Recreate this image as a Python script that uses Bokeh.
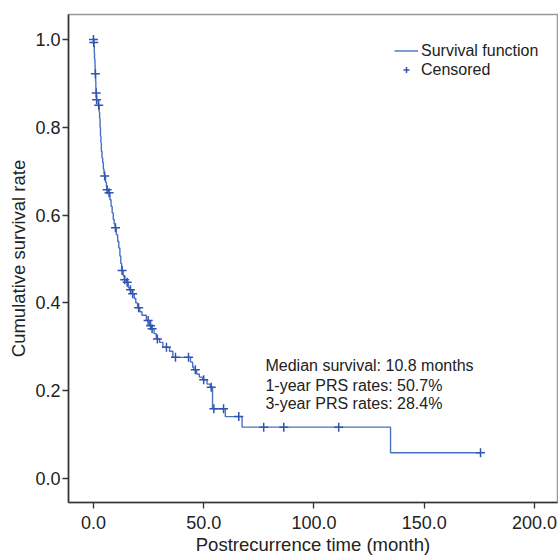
from bokeh.plotting import figure
from bokeh.models import (Range1d, FixedTicker, NumeralTickFormatter, Legend,
                          LegendItem, Label)
from bokeh.embed import file_html
from bokeh.resources import INLINE

# ---- data ----
event_times = [0, 0.1, 0.2, 0.4, 0.5, 0.7, 0.8, 1.0, 1.1, 1.2, 1.4, 2.2, 2.6, 2.8,
               3.0, 3.2, 3.4, 3.6, 3.9, 4.2, 4.5, 4.8, 5.0, 5.5, 5.9, 6.1, 6.8,
               7.5, 8.0, 8.5, 9.0, 9.4, 9.8, 10.4, 11.0, 11.5, 12.0, 12.4, 12.8,
               13.5, 14.0, 15.0, 15.8, 16.3, 17.5, 18.5, 19.2, 20.0, 21.0, 22.0,
               24.0, 25.5, 26.3, 27.5, 28.5, 30.0, 31.5, 34.5, 36.0, 44.0, 45.0,
               45.5, 46.8, 48.0, 49.5, 51.5, 53.0, 54.0, 59.8, 67.4, 134.7, 175.5]
survival = [1.0, 0.993, 0.985, 0.97, 0.955, 0.94, 0.922, 0.905, 0.89, 0.878, 0.863,
            0.85, 0.835, 0.82, 0.80, 0.78, 0.765, 0.745, 0.73, 0.72, 0.705, 0.695,
            0.689, 0.675, 0.665, 0.658, 0.651, 0.635, 0.62, 0.605, 0.59, 0.58,
            0.571, 0.555, 0.54, 0.525, 0.507, 0.49, 0.474, 0.462, 0.453, 0.447,
            0.435, 0.43, 0.421, 0.41, 0.40, 0.389, 0.38, 0.372, 0.36, 0.348, 0.341,
            0.33, 0.318, 0.31, 0.299, 0.29, 0.276, 0.265, 0.2535, 0.2475, 0.238,
            0.231, 0.2248, 0.215, 0.208, 0.159, 0.141, 0.117, 0.0585, 0.0585]

censored_times = [0.0, 0.15, 0.9, 1.25, 1.45, 2.4, 5.1, 6.2, 7.1, 10.0, 13.0, 14.2,
                  15.3, 16.8, 17.8, 20.5, 24.8, 25.9, 26.6, 29.0, 33.1, 37.2, 43.1,
                  46.2, 50.0, 53.4, 54.6, 59.0, 65.9, 77.2, 86.3, 111.2, 175.5]
censored_surv = [1.0, 0.993, 0.922, 0.878, 0.863, 0.85, 0.689, 0.658, 0.651, 0.571,
                 0.474, 0.453, 0.447, 0.43, 0.421, 0.389, 0.36, 0.348, 0.341, 0.318,
                 0.299, 0.276, 0.276, 0.2475, 0.2248, 0.208, 0.159, 0.159, 0.141,
                 0.117, 0.117, 0.117, 0.0585]

x_ticks = [0, 50, 100, 150, 200]
y_ticks = [0.0, 0.2, 0.4, 0.6, 0.8, 1.0]

stats_lines = ["Median survival: 10.8 months",
               "1-year PRS rates: 50.7%",
               "3-year PRS rates: 28.4%"]
stats_x = 78
stats_y = [0.2574, 0.2118, 0.1702]

FONT = "Liberation Sans"
TXT = "#222222"
LINE = "#4a70c4"
MARK = "#2f55b0"

p = figure(width=558, height=558, output_backend="svg", toolbar_location=None,
           x_range=Range1d(-11.3, 210.4), y_range=Range1d(-0.0547, 1.057),
           min_border_left=68, min_border_right=1, min_border_top=14,
           min_border_bottom=56)

step_r = p.step(event_times, survival, mode="after", line_color=LINE, line_width=1.4)
cens_r = p.scatter(censored_times, censored_surv, marker="cross", size=9,
                   line_color=MARK, line_width=1.5)

p.grid.visible = False
p.outline_line_color = "#999999"
p.outline_line_width = 1.5
p.background_fill_color = "white"
p.border_fill_color = "white"

for ax in (p.xaxis[0], p.yaxis[0]):
    ax.axis_line_color = "#333333"
    ax.axis_line_width = 1.6
    ax.major_tick_line_color = "#333333"
    ax.major_tick_line_width = 1.3
    ax.major_tick_in = 0
    ax.major_tick_out = 6
    ax.minor_tick_line_color = None
    ax.major_label_text_font = FONT
    ax.major_label_text_font_size = "18px"
    ax.major_label_text_color = TXT
    ax.axis_label_text_font = FONT
    ax.axis_label_text_font_size = "18.5px"
    ax.axis_label_text_font_style = "normal"
    ax.axis_label_text_color = TXT
    ax.formatter = NumeralTickFormatter(format="0.0")

p.xaxis.ticker = FixedTicker(ticks=x_ticks)
p.yaxis.ticker = FixedTicker(ticks=y_ticks)
p.xaxis.axis_label = "Postrecurrence time (month)"
p.yaxis.axis_label = "Cumulative survival rate"
p.xaxis.major_label_standoff = 7
p.xaxis.axis_label_standoff = 2
p.yaxis.major_label_standoff = 2
p.yaxis.axis_label_standoff = 3

legend = Legend(items=[LegendItem(label="Survival function", renderers=[step_r]),
                       LegendItem(label="Censored", renderers=[cens_r])],
                location=(326, 423), orientation="vertical",
                label_text_font=FONT, label_text_font_size="16px",
                label_text_color=TXT, label_height=19, glyph_height=15,
                glyph_width=24, label_standoff=3, spacing=0, padding=0,
                margin=0, border_line_color=None, background_fill_alpha=0)
p.add_layout(legend)

for txt, yy in zip(stats_lines, stats_y):
    p.add_layout(Label(x=stats_x, y=yy, text=txt, text_font=FONT,
                       text_font_size="16px", text_color=TXT,
                       text_baseline="alphabetic", text_align="left"))

open("out.html", "w").write(file_html(p, INLINE))
